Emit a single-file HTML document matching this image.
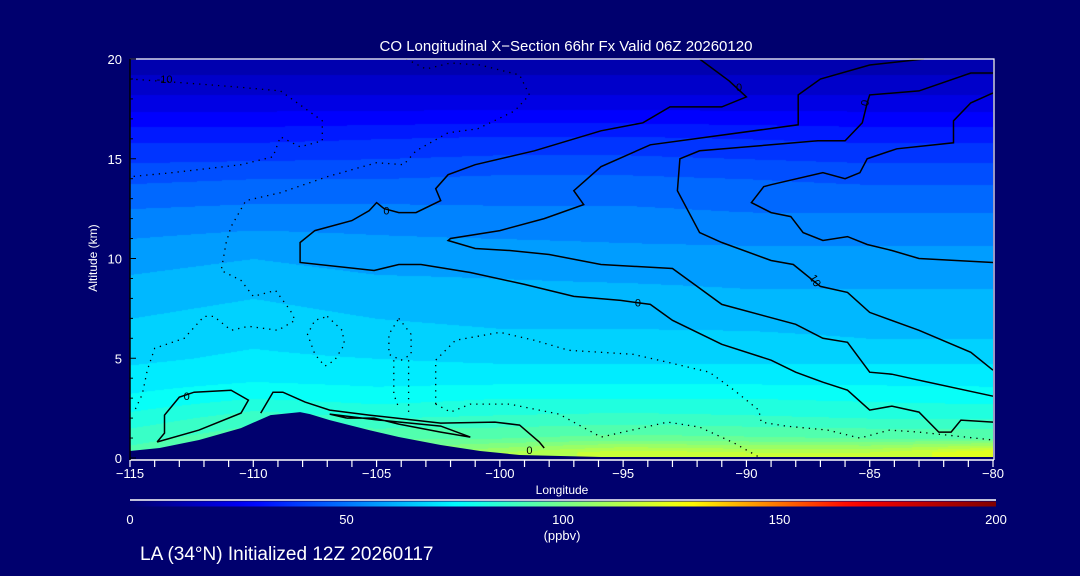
<!DOCTYPE html>
<html><head><meta charset="utf-8">
<style>
html,body{margin:0;padding:0;background:#00006e;}
#wrap{position:relative;width:1080px;height:576px;background:#00006e;overflow:hidden;font-family:"Liberation Sans",sans-serif;color:#fff;}
canvas{position:absolute;left:130px;top:59px;}
svg{position:absolute;left:0;top:0;}
</style></head><body>
<div id="wrap">
<canvas id="field" width="863" height="399"></canvas>
<svg id="svg" width="1080" height="576"></svg>
</div>
<script>
// ---- data ----
const gridLons = [-115,-110,-105,-100,-95,-90,-85,-80];
const gridAlts = [20,18,16,14,12,10,8,6,5,4,3,2,1,0.3];
const row20 = [11,11,11,11,11,11,11,11];
const row18 = [21,21,21,21,21,21,21,21];
const row16 = [34,34,35,36,36,35,34,34];
const row14 = [44,45,45,46,46,45,44,44];
const row12 = [52,53,53,52,52,51,51,51];
const row10 = [58,60,58,58,57,57,57,57];
const row8  = [63,65,63,62,62,61,61,61];
const row6  = [67,69,67,66,66,66,65,65];
const row5  = [69,71,70,69,69,69,69,69];
const row4  = [72,74,73,73,73,73,73,73];
const row3  = [76,80,78,80,80,80,79,78];
const row2  = [82,88,85,86,87,86,85,85];
const row1  = [88,94,95,95,97,96,95,95];
const row0  = [92,97,100,110,118,115,115,125];
const fieldRows = [row20,row18,row16,row14,row12,row10,row8,row6,row5,row4,row3,row2,row1,row0];

const terrLon = [-115,-113.8,-112.2,-110.5,-109.3,-108.1,-107.7,-106.9,-105.3,-104.1,-102.4,-100.8,-99.2,-95.9,-80];
const terrAlt = [0.35,0.5,0.9,1.5,2.15,2.3,2.2,1.9,1.4,1.05,0.65,0.35,0.15,0.05,0.05];

const xTicks = [-115,-110,-105,-100,-95,-90,-85,-80];
const yTicks = [0,5,10,15,20];
const cbTicks = [0,50,100,150,200];

// contours: solid
const cA_lon = [-91.9,-90.7,-90.0,-91.0,-93.1,-94.2,-95.9,-98.6,-101.0,-102.1,-102.6,-102.4,-103.4,-104.1,-104.7,-105.0,-105.3,-106.0,-107.5,-108.1,-108.1,-105.1,-104.1,-103.2,-101.2,-99.0,-97.0,-95.1,-93.9,-93.0,-91.0,-89.0,-88.0,-86.9,-85.9,-85.0,-84.1,-83.0,-82.2,-81.7,-81.3,-80.0];
const cA_alt = [20.0,18.9,18.1,17.6,17.6,16.8,16.4,15.4,14.7,14.2,13.5,12.9,12.3,12.3,12.5,12.8,12.4,11.9,11.4,10.8,9.8,9.4,9.7,9.7,9.3,8.7,8.1,7.9,7.7,6.9,5.7,4.9,4.3,3.8,3.4,2.4,2.6,2.3,1.3,1.3,1.9,1.8];
const cB_lon = [-82.8,-85.0,-87.0,-87.9,-87.9,-93.9,-95.9,-97.0,-96.6,-98.2,-100.0,-102.0,-102.1,-101.0,-99.6,-98.0,-95.9,-93.0,-92.0,-91.0,-88.0,-86.9,-85.9,-85.0,-84.1,-83.0,-80.0];
const cB_alt = [20.0,19.7,19.0,18.2,16.7,15.7,14.6,13.4,12.7,12.0,11.4,11.0,10.9,10.5,10.4,10.2,9.7,9.5,8.6,7.7,6.7,6.0,5.8,4.3,4.2,3.9,3.1];
const cC_lon = [-80.0,-80.9,-83.0,-85.0,-85.1,-85.3,-86.0,-87.1,-91.9,-92.7,-92.8,-91.9,-91.0,-89.0,-88.1,-87.0,-85.9,-85.0,-83.0,-80.9,-80.0];
const cC_alt = [19.3,19.3,18.4,18.2,17.8,16.8,15.9,15.9,15.4,15.0,13.4,11.3,10.8,9.9,9.7,8.6,8.3,7.3,6.4,5.3,4.4];
const cD_lon = [-80.0,-80.9,-81.6,-81.6,-83.9,-85.1,-85.4,-86.0,-86.9,-89.0,-89.3,-89.8,-89.0,-88.2,-87.7,-86.9,-85.9,-85.1,-84.1,-83.0,-80.0];
const cD_alt = [18.3,17.8,16.9,15.8,15.5,15.0,14.3,14.0,14.3,13.7,13.6,12.8,12.3,12.1,11.3,10.9,11.1,10.7,10.4,10.0,9.8];
const cE_lon = [-113.9,-113.6,-113.6,-113.0,-112.4,-110.9,-110.2,-110.5,-112.2,-113.9];
const cE_alt = [0.8,1.25,2.15,3.05,3.3,3.4,2.9,2.25,1.4,0.8];
const cF_lon = [-109.7,-109.2,-108.8,-107.9,-106.9,-105.3,-102.4,-100.2,-99.2,-98.4,-98.2];
const cF_alt = [2.25,3.3,3.3,2.8,2.4,2.15,1.75,1.8,1.65,0.8,0.5];
const cG_lon = [-106.2,-106.9,-104.9,-102.4,-101.2,-102.4,-104.1,-105.1,-106.2];
const cG_alt = [2.0,2.2,1.9,1.6,1.05,1.3,1.7,2.0,2.0];
// contours: dotted
const d1_lon = [-115,-112.8,-110.7,-108.9,-108.1,-107.2,-107.2,-108.1,-108.9,-109.2,-110.5,-113.3,-115];
const d1_alt = [19.0,18.8,18.6,18.4,17.7,16.9,15.9,15.6,16.1,15.1,14.7,14.3,14.1];
const d2_lon = [-103.8,-103.0,-102.0,-100.8,-99.2,-98.8,-99.4,-100.9,-102.1,-103.4,-103.9,-105.0,-107.0,-108.9,-110.3,-110.9,-111.1,-111.3,-110.5,-110.0,-109.1,-108.5,-108.3,-109.0,-110.2,-110.9,-111.6,-112.0,-112.8,-114.0,-114.3,-114.5,-114.8];
const d2_alt = [20.0,19.5,19.8,19.7,19.2,18.2,17.4,16.5,16.3,15.4,14.7,14.8,14.1,13.3,12.9,11.6,10.8,9.4,8.9,8.1,8.4,7.4,6.9,6.4,6.6,6.4,7.1,7.1,6.0,5.5,4.4,3.2,2.4];
const d3_lon = [-107.0,-106.4,-106.3,-106.7,-107.1,-107.5,-107.8,-107.5,-107.0];
const d3_alt = [7.1,6.4,5.7,4.9,4.6,5.2,6.2,6.9,7.1];
const d4_lon = [-104.1,-103.6,-103.6,-104.0,-104.5,-104.5,-104.1];
const d4_alt = [7.0,6.2,5.2,4.9,5.2,6.2,7.0];
const d5_lon = [-104.3,-104.3,-104.1];
const d5_alt = [4.9,3.2,2.5];
const d6_lon = [-103.7,-103.7];
const d6_alt = [4.9,2.3];
const d7_lon = [-102.6,-102.6,-101.8,-100.0,-98.6,-97.2,-95.9,-94.6,-93.2,-91.5,-90.5,-89.5,-89.4,-88.4,-86.7,-85.4,-84.2,-83.0,-80.0];
const d7_alt = [2.7,4.9,5.9,6.3,5.9,5.4,5.3,5.2,4.8,4.3,3.4,2.4,1.8,1.6,1.4,1.0,1.4,1.3,0.9];
const d8_lon = [-102.6,-102.0,-101.2,-99.6,-97.6,-95.9,-93.2,-91.9,-90.5,-89.5];
const d8_alt = [2.7,2.3,2.7,2.7,2.2,1.05,1.8,1.55,0.75,0.05];

const labelText = ["-10","0","0","0","10","0","0","0"];
const labelLon = [-113.6,-104.6,-112.7,-94.4,-87.2,-90.3,-85.2,-98.8];
const labelAlt = [19.0,12.4,3.1,7.8,8.9,18.6,17.8,0.4];
const labelRot = [0,0,0,0,60,0,-80,0];

// ---- axes ----
const X0=130,X1=993,Y0=458,Y1=59;
const xs = lon => X0 + (lon+115)/35*(X1-X0);
const ys = alt => Y0 - alt/20*(Y0-Y1);
const cbx = v => 130 + v/200*866;

function jet(v){
  const st=[[0,[0,0,110]],[27.7,[0,0,255]],[52,[0,128,255]],[76,[0,255,255]],[102,[128,255,128]],[129,[255,255,0]],[148,[255,128,0]],[167,[255,0,0]],[200,[128,0,0]]];
  if(v<=0) return st[0][1];
  for(let i=1;i<st.length;i++){ if(v<=st[i][0]){const a=st[i-1],b=st[i];const t=(v-a[0])/(b[0]-a[0]);return a[1].map((c,k)=>Math.round(c+(b[1][k]-c)*t));}}
  return st[st.length-1][1];
}
function fieldAt(lon,alt){
  let i=0; while(i<gridLons.length-2 && lon>gridLons[i+1]) i++;
  const tx=Math.max(0,Math.min(1,(lon-gridLons[i])/(gridLons[i+1]-gridLons[i])));
  let j=0; while(j<gridAlts.length-2 && alt<gridAlts[j+1]) j++;
  const ty=Math.max(0,Math.min(1,(gridAlts[j]-alt)/(gridAlts[j]-gridAlts[j+1])));
  const a=fieldRows[j][i]*(1-tx)+fieldRows[j][i+1]*tx;
  const b=fieldRows[j+1][i]*(1-tx)+fieldRows[j+1][i+1]*tx;
  return a*(1-ty)+b*ty;
}
// ---- field canvas ----
const cv=document.getElementById('field'),ctx=cv.getContext('2d');
const W=cv.width,H=cv.height,img=ctx.createImageData(W,H);
for(let py=0;py<H;py++){const alt=(Y0-(Y1+py))/(Y0-Y1)*20;
  for(let px=0;px<W;px++){const lon=-115+px/W*35;
    let v=fieldAt(lon,alt); v=Math.floor(v/5)*5+2.5; const c=jet(v);
    const k=(py*W+px)*4; img.data[k]=c[0];img.data[k+1]=c[1];img.data[k+2]=c[2];img.data[k+3]=255;}}
ctx.putImageData(img,0,0);

// ---- svg ----
const NS='http://www.w3.org/2000/svg', svg=document.getElementById('svg');
function el(tag,attrs,parent){const e=document.createElementNS(NS,tag);for(const k in attrs)e.setAttribute(k,attrs[k]);(parent||svg).appendChild(e);return e;}
function txt(s,x,y,size,anchor,name){const t=el('text',{x:x,y:y,'font-size':size,fill:'#fff','text-anchor':anchor||'middle','font-family':'Liberation Sans, sans-serif'});t.textContent=s;


return t;}

// terrain
let tp='M'+xs(terrLon[0])+','+ys(0)+' ';
for(let i=0;i<terrLon.length;i++) tp+='L'+xs(terrLon[i])+','+ys(terrAlt[i])+' ';
tp+='L'+xs(-80)+','+ys(0)+' L'+xs(-80)+','+(Y0+2)+' L'+xs(-115)+','+(Y0+2)+'Z';
const terr=el('path',{d:tp,fill:'#00006e'});



function contour(lons,alts,dotted,name){
  const pts=lons.map((l,i)=>xs(l).toFixed(1)+','+ys(alts[i]).toFixed(1)).join(' ');
  const p=el('polyline',{points:pts,fill:'none',stroke:'#000','stroke-width':dotted?1.3:1.5,'stroke-dasharray':dotted?'1.3 5':'none'});
  
  
}
contour(cA_lon,cA_alt,false,'contour-0-upper');
contour(cB_lon,cB_alt,false,'contour-10-a');
contour(cC_lon,cC_alt,false,'contour-10-b');
contour(cD_lon,cD_alt,false,'contour-20');
contour(cE_lon,cE_alt,false,'contour-0-loop-west');
contour(cF_lon,cF_alt,false,'contour-0-low');
contour(cG_lon,cG_alt,false,'contour-0-inner');
contour(d1_lon,d1_alt,true,'contour-neg10-top');
contour(d2_lon,d2_alt,true,'contour-neg10-west');
contour(d3_lon,d3_alt,true,'contour-neg-loop-1');
contour(d4_lon,d4_alt,true,'contour-neg-loop-2');
contour(d5_lon,d5_alt,true,'contour-neg-leg-1');
contour(d6_lon,d6_alt,true,'contour-neg-leg-2');
contour(d7_lon,d7_alt,true,'contour-neg-mid');
contour(d8_lon,d8_alt,true,'contour-neg-low');
for(let i=0;i<labelText.length;i++){
  const x=xs(labelLon[i]),y=ys(labelAlt[i]);
  const t=el('text',{x:x,y:y+4,'font-size':11,fill:'#000','text-anchor':'middle','font-family':'Liberation Sans, sans-serif',transform:'rotate('+labelRot[i]+' '+x+' '+y+')'});
  t.textContent=labelText[i];
  
  
}

// frame
const fr=el('path',{d:'M'+X0+','+Y1+' L'+(X1+1)+','+Y1+' L'+(X1+1)+','+(Y0+2),fill:'none',stroke:'#fff','stroke-width':1.2});


const xa=el('line',{x1:X0,y1:Y0+2,x2:X1+1,y2:Y0+2,stroke:'#fff','stroke-width':1.5});


const ya=el('line',{x1:X0,y1:Y1,x2:X0,y2:Y0+2,stroke:'#000','stroke-width':1.5});


for(let l=-115;l<=-80;l++){const tk=el('line',{x1:xs(l),y1:Y0+2,x2:xs(l),y2:Y0+9,stroke:'#fff','stroke-width':1.2});
  
  }
for(let a=0;a<=20;a++){const tk=el('line',{x1:X0,y1:ys(a),x2:X0+(a%5==0?6:3),y2:ys(a),stroke:'#000','stroke-width':1});
  
  }
xTicks.forEach(v=>txt((v<0?'\u2212':'')+Math.abs(v),xs(v),478,13,'middle','x-tick-label'));
yTicks.forEach(v=>txt(String(v),122,ys(v)+5,13,'end','y-tick-label'));
txt('Longitude',562,494,12,'middle','x-axis-title');
const yt=txt('Altitude (km)',97,258,12,'middle','y-axis-title');
yt.setAttribute('transform','rotate(-90 97 258)');
txt('CO Longitudinal X\u2212Section 66hr  Fx Valid 06Z 20260120',566,51,15,'middle','chart-title');

// colorbar
const defs=el('defs',{});
const g=el('linearGradient',{id:'cbg',x1:0,x2:1,y1:0,y2:0},defs);
for(let v=0;v<=200;v+=5){const c=jet(v);el('stop',{offset:v/200,'stop-color':'rgb('+c.join(',')+')'},g);}
const cbl=el('line',{x1:130,y1:500,x2:996,y2:500,stroke:'#fff','stroke-width':1.5});


const cb=el('rect',{x:130,y:501.5,width:866,height:5,fill:'url(#cbg)'});


cbTicks.forEach(v=>txt(String(v),cbx(v),524,13,'middle','colorbar-tick-label'));
txt('(ppbv)',562,540,13,'middle','colorbar-unit');
txt('LA (34\u00b0N) Initialized 12Z 20260117',140,560,19,'start','footer-init');
</script>
</body></html>
